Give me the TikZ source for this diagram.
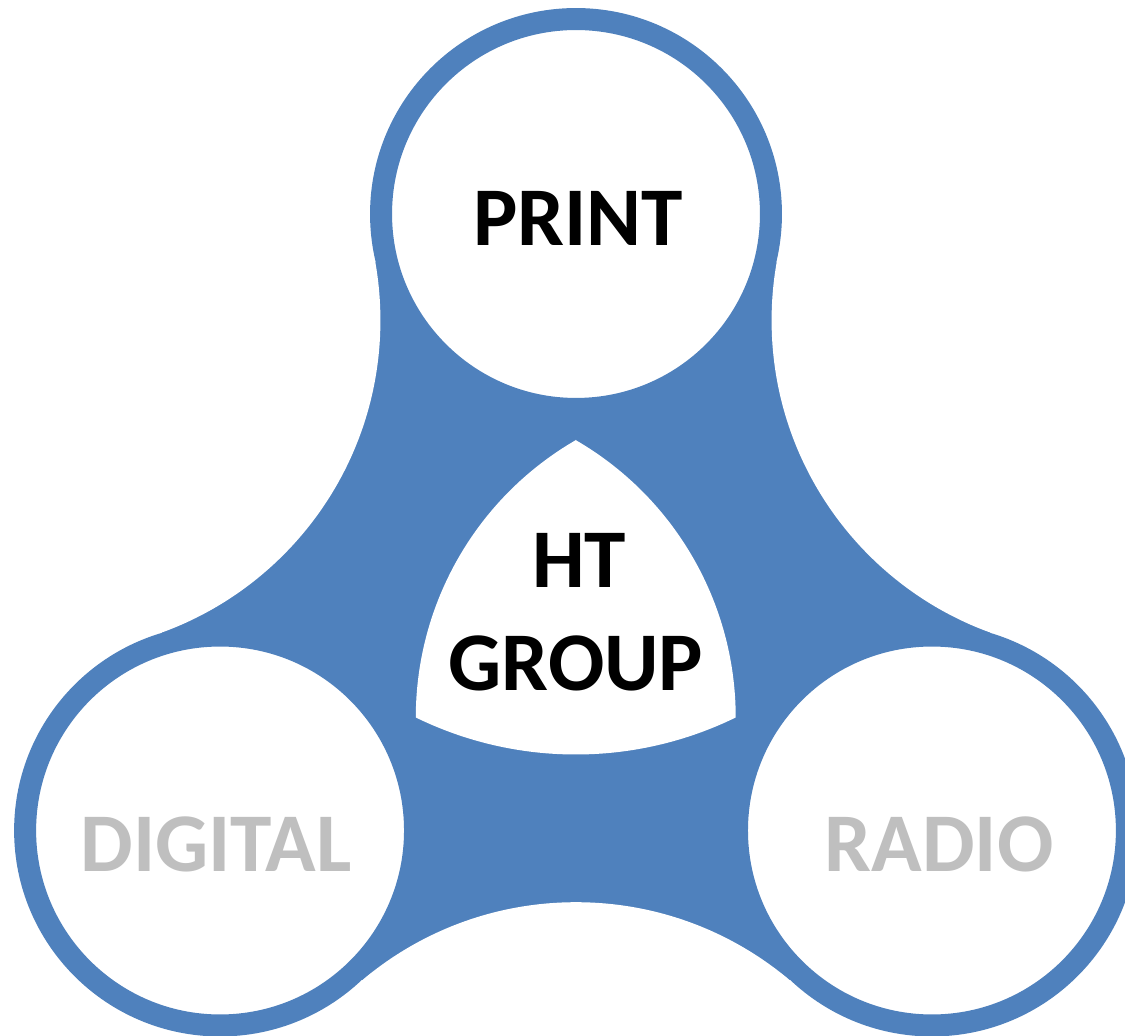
\documentclass[tikz,border=0pt]{standalone}
\usepackage{fontspec}
\setmainfont{Carlito}
\usetikzlibrary{calc}
\definecolor{hblue}{HTML}{4F81BD}
\definecolor{hgray}{HTML}{BFBFBF}
\tikzset{
  ring/.style={circle, draw=hblue, line width=0.44cm, fill=white, minimum size=7.8cm, inner sep=0pt},
  lbl/.style={anchor=base, inner sep=0pt, font=\fontsize{47.5}{57}\selectfont\bfseries},
  cutout/.style={fill=white},
}
\begin{document}
\begin{tikzpicture}[x=0.02cm, y=0.02cm]
\useasboundingbox (0,0) rectangle (1125,1035);
% centres
\coordinate (c) at (576,410);
\coordinate (ct) at ($(c)+(90:411)$);
\coordinate (cl) at ($(c)+(210:411)$);
\coordinate (cr) at ($(c)+(330:411)$);
% centres of the concave outer arcs
\coordinate (al) at ($(c)+(150:609.2)$);
\coordinate (ab) at ($(c)+(270:609.2)$);
\coordinate (ar) at ($(c)+(30:609.2)$);
% blue body
\fill[hblue] ($(ct)!0.37!(al)$) -- ($(cl)!0.37!(al)$) -- ($(cl)!0.37!(ab)$)
  -- ($(cr)!0.37!(ab)$) -- ($(cr)!0.37!(ar)$) -- ($(ct)!0.37!(ar)$) -- cycle;
\fill[cutout] (al) circle[radius=332];
\fill[cutout] (ab) circle[radius=332];
\fill[cutout] (ar) circle[radius=332];
% circles
\node[ring] (print) at (ct) {};
\node[ring] (digital) at (cl) {};
\node[ring] (radio) at (cr) {};
% central rounded triangle
\coordinate (p1) at ($(c)+(90:185)$);
\fill[white] (p1) arc[start angle=120, end angle=180, radius=320.4]
  arc[start angle=243.93, end angle=296.07, radius=364]
  arc[start angle=0, end angle=60, radius=320.4] -- cycle;
% labels
\node[lbl, text=black] (tprint) at (578,789) {PRINT};
\node[lbl, text=black] (tht) at (579,447) {HT};
\node[lbl, text=black] (tgroup) at (576,345) {GROUP};
\node[lbl, text=hgray] (tdigital) at (216,164) {DIGITAL};
\node[lbl, text=hgray] (tradio) at (939,164) {RADIO};
\end{tikzpicture}
\end{document}
